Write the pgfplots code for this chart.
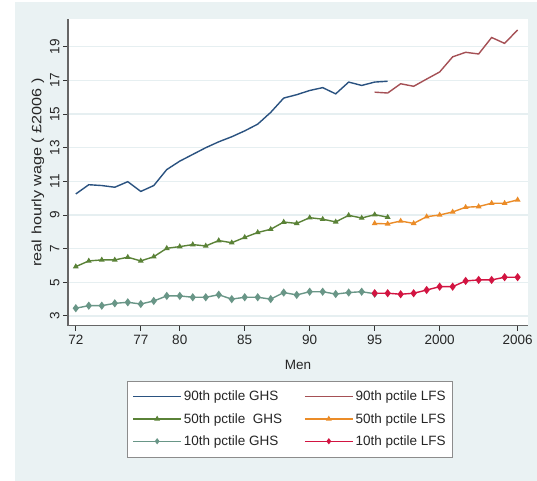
\documentclass[border=0pt]{standalone}
\usepackage{fontspec}
\setmainfont{Liberation Sans}
\usepackage{graphicx}
\usepackage{pgfplots}
\pgfplotsset{compat=1.18}
\definecolor{bgc}{RGB}{234,242,243}
\definecolor{gridc}{RGB}{230,239,241}
\definecolor{cnavy}{RGB}{42,82,128}
\definecolor{cmaroon}{RGB}{165,80,85}
\definecolor{cgreen}{RGB}{90,130,55}
\definecolor{corange}{RGB}{235,140,40}
\definecolor{cteal}{RGB}{105,150,135}
\definecolor{cred}{RGB}{210,20,65}
\begin{document}
\begin{tikzpicture}[x=1bp,y=1bp]
\fill[white] (0,0) rectangle (537,481);
\fill[bgc] (15,0) rectangle (537,479);
\begin{axis}[
  at={(68bp,155.3bp)}, anchor=south west,
  width=460bp, height=306.7bp, scale only axis,
  xmin=71.4, xmax=106.8, ymin=2.42, ymax=20.65,
  axis background/.style={fill=white},
  axis lines*=left,
  axis line style={draw=black!60, line width=1.2bp},
  xtick={72,77,80,85,90,95,100,106},
  xticklabels={72,77,80,85,90,95,2000,2006},
  ytick={3,5,7,9,11,13,15,17,19},
  tick align=outside, major tick length=5bp,
  tick style={black!80, line width=0.9bp},
  ymajorgrids, major grid style={draw=gridc, line width=1.3bp},
  /pgf/number format/assume math mode=true,
  ticklabel style={font=\fontsize{13.5bp}{15bp}\selectfont, text=black!85},
  xticklabel style={yshift=-1bp},
  yticklabel style={rotate=90, anchor=south, xshift=0bp},
  xlabel={Men}, ylabel={\scalebox{1.2}[1]{real hourly wage ( £2006 )}},
  label style={font=\fontsize{13.5bp}{15bp}\selectfont, text=black!85},
  xlabel style={yshift=-9bp},
  ylabel style={yshift=-1bp},
  legend columns=2,
  legend style={at={(0.4826,-0.18)}, anchor=north, draw=black!45, fill=white,
    font=\fontsize{13.5bp}{15bp}\selectfont, text=black!85,
    row sep=7bp, inner xsep=5bp, inner ysep=8bp,
    /tikz/every even column/.append style={column sep=20bp}},
  legend cell align=left,
  legend image code/.code={\draw[mark repeat=2,mark phase=2,mark size=2bp] plot coordinates {(0bp,0bp) (24bp,0bp) (48bp,0bp)};},
]
\addplot[cnavy, line width=1.4bp] coordinates {
(72,10.25)(73,10.8)(74,10.75)(75,10.65)(76,10.98)(77,10.4)(78,10.75)(79,11.7)(80,12.2)(81,12.6)(82,13.0)(83,13.35)(84,13.65)(85,14.0)(86,14.4)(87,15.1)(88,15.95)(89,16.15)(90,16.4)(91,16.57)(92,16.2)(93,16.9)(94,16.7)(95,16.9)(96,16.95)};
\addlegendentry{90th pctile GHS}
\addplot[cmaroon, line width=1.4bp] coordinates {
(95,16.3)(96,16.25)(97,16.8)(98,16.65)(99,17.08)(100,17.5)(101,18.4)(102,18.67)(103,18.57)(104,19.55)(105,19.2)(106,20.0)};
\addlegendentry{90th pctile LFS}
\addplot[cgreen, line width=1.4bp, mark=triangle*, mark size=2bp] coordinates {
(72,5.93)(73,6.27)(74,6.33)(75,6.33)(76,6.49)(77,6.27)(78,6.52)(79,7.02)(80,7.12)(81,7.24)(82,7.16)(83,7.48)(84,7.35)(85,7.67)(86,7.96)(87,8.15)(88,8.58)(89,8.5)(90,8.84)(91,8.75)(92,8.59)(93,8.98)(94,8.82)(95,9.02)(96,8.87)};
\addlegendentry{50th pctile~\ GHS}
\addplot[corange, line width=1.4bp, mark=triangle*, mark size=2bp] coordinates {
(95,8.5)(96,8.47)(97,8.64)(98,8.5)(99,8.9)(100,9.0)(101,9.18)(102,9.46)(103,9.5)(104,9.7)(105,9.7)(106,9.9)};
\addlegendentry{50th pctile LFS}
\addplot[cteal, line width=1.4bp, mark=diamond*, mark size=3bp] coordinates {
(72,3.46)(73,3.61)(74,3.61)(75,3.75)(76,3.81)(77,3.71)(78,3.89)(79,4.19)(80,4.19)(81,4.11)(82,4.11)(83,4.26)(84,4.0)(85,4.11)(86,4.11)(87,4.0)(88,4.39)(89,4.25)(90,4.44)(91,4.44)(92,4.3)(93,4.39)(94,4.44)(95,4.32)};
\addlegendentry{10th pctile GHS}
\addplot[cred, line width=1.4bp, mark=diamond*, mark size=3bp] coordinates {
(95,4.35)(96,4.35)(97,4.29)(98,4.35)(99,4.54)(100,4.74)(101,4.74)(102,5.08)(103,5.14)(104,5.14)(105,5.3)(106,5.3)};
\addlegendentry{10th pctile LFS}
\end{axis}
\end{tikzpicture}
\end{document}
